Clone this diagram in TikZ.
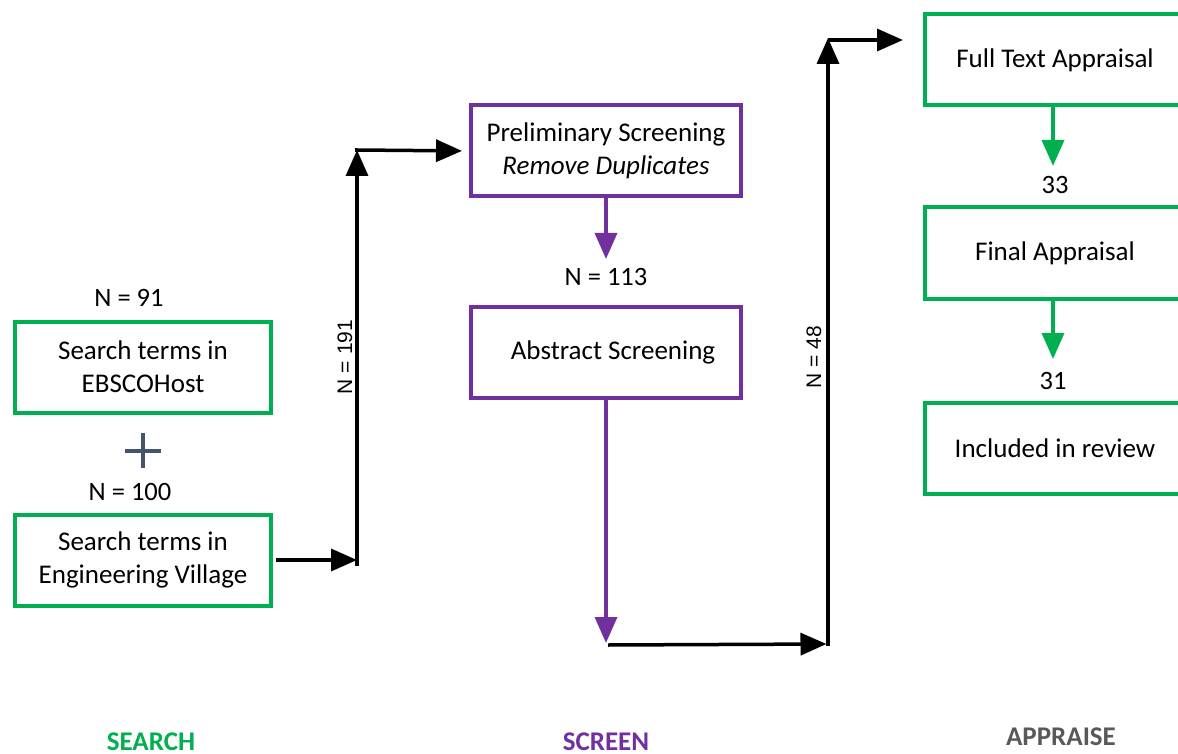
\documentclass[tikz,border=0pt]{standalone}
\usepackage{fontspec}
\setmainfont{Carlito}
\newfontfamily\arialf{Liberation Sans}
\usetikzlibrary{arrows.meta}
\definecolor{gr}{HTML}{00B050}
\definecolor{pu}{HTML}{7030A0}
\definecolor{slate}{HTML}{44546A}
\definecolor{gy}{HTML}{595959}
\tikzset{
  box/.style={draw, line width=4pt, minimum height=91pt, align=center, inner sep=0pt,
    font=\fontsize{27}{33}\selectfont},
  gbox/.style={box, draw=gr, minimum width=256pt},
  pbox/.style={box, draw=pu, minimum width=270pt},
  lbl/.style={font=\fontsize{26.5}{30}\selectfont, inner sep=0pt},
  nlbl/.style={font=\arialf\fontsize{21}{25}\selectfont, inner sep=0pt, rotate=90},
  arr/.style={line width=3.5pt, -{Triangle[length=26pt,width=22pt]}},
  parr/.style={arr, draw=pu, -{Triangle[length=26pt,width=22pt,fill=pu]}},
  garr/.style={arr, draw=gr, -{Triangle[length=26pt,width=22pt,fill=gr]}},
  phase/.style={font=\bfseries\fontsize{27}{30}\selectfont, inner sep=0pt}
}
\begin{document}
\begin{tikzpicture}[x=1pt,y=-1pt]
\useasboundingbox (0,0) rectangle (1178,754);
\clip (0,0) rectangle (1178,754);

% SEARCH column
\node[lbl] (n91) at (129,298) {N = 91};
\node[gbox] (ebsco) at (143,367) {Search terms in\\EBSCOHost};
\draw[slate, line width=4pt] (125,451) -- (161,451) (143,433) -- (143,468);
\node[lbl] (n100) at (130,492) {N = 100};
\node[gbox] (ev) at (143,560) {Search terms in\\Engineering Village};

\coordinate (j1) at (357,560);
\coordinate (j1b) at (357,566);
\coordinate (j1t) at (357,150);
\draw[arr] (ev.east) ++(3,0) -- (j1);
\draw[arr] (j1b) -- (j1t);
\draw[line width=3.5pt] (j1t) ++(-1.75,0) -- (j1t);
\node[nlbl] (n191) at (345,357) {N = 191};

% SCREEN column
\node[pbox] (prelim) at (606,151) {Preliminary Screening\\\textit{Remove Duplicates}};
\draw[arr, shorten >=7pt] (j1t) -- (prelim.west);
\node[lbl] (n113) at (606,277) {N = 113};
\coordinate (p1) at (606,259);
\draw[parr] (prelim.south) -- (p1);
\node[pbox] (abstract) at (606,352) {\hspace*{14pt}Abstract Screening};

\coordinate (j2) at (606,643);
\coordinate (j2r) at (608,645);
\coordinate (j3) at (828,644);
\coordinate (j4) at (828,38);
\coordinate (j4h) at (828,40);
\draw[parr] (abstract.south) -- (j2);
\draw[arr, shorten >=1.5pt] (j2r) -- (j3);
\draw[arr] (j3) ++(0,1.75) -- (j4);
\node[nlbl] (n48) at (814,357) {N = 48};

% APPRAISE column
\node[gbox, minimum width=260pt] (full) at (1055,60) {Full Text Appraisal};
\draw[arr] (j4h) -- ([xshift=-20pt]full.west |- j4h);
\node[lbl] (n33) at (1055,185) {33};
\coordinate (g1) at (1053,166);
\draw[garr] (full.south -| g1) -- (g1);
\node[gbox, minimum width=260pt] (final) at (1055,253) {Final Appraisal};
\node[lbl] (n31) at (1053,381) {31};
\coordinate (g2) at (1053,359);
\draw[garr] (final.south -| g2) -- (g2);
\node[gbox, minimum width=260pt] (incl) at (1055,448) {Included in review};

% phase labels
\node[phase, text=gr] (search) at (151,742) {SEARCH};
\node[phase, text=pu] (screen) at (606,742) {SCREEN};
\node[phase, text=gy] (appraise) at (1061,737) {APPRAISE};
\end{tikzpicture}
\end{document}
